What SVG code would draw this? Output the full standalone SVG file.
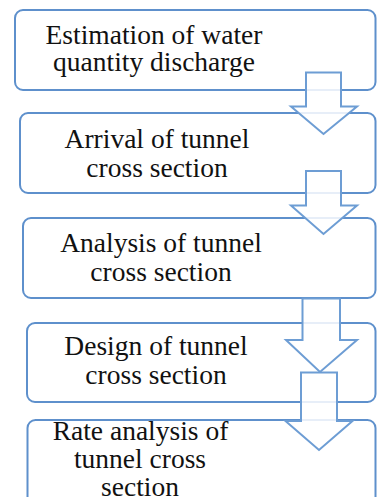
<svg xmlns="http://www.w3.org/2000/svg" width="377" height="497" viewBox="0 0 377 497">
<style>
.box{fill:#ffffff;stroke:#5e90cc;stroke-width:2}
.arr{fill:#ffffff;fill-opacity:0.85;stroke:#6d9dd4;stroke-width:2;stroke-linejoin:miter}
text{font-family:"Liberation Serif","Times New Roman",serif;font-size:27.5px;fill:#111111;text-anchor:middle}
</style>
<rect width="377" height="497" fill="#ffffff"/>
<g id="n1"><rect class="box" x="15" y="10" width="360.5" height="80" rx="8"/>
<text x="154" y="44">Estimation of water</text><text x="154" y="71">quantity discharge</text></g>
<g id="n2"><rect class="box" x="20" y="113" width="355.5" height="80" rx="8"/>
<text x="157" y="148">Arrival of tunnel</text><text x="157" y="176.5">cross section</text></g>
<g id="n3"><rect class="box" x="23" y="218" width="352.5" height="80" rx="8"/>
<text x="161" y="251.5">Analysis of tunnel</text><text x="161" y="280.5">cross section</text></g>
<g id="n4"><rect class="box" x="27" y="323" width="348.5" height="79" rx="8"/>
<text x="156" y="355">Design of tunnel</text><text x="156" y="383.5">cross section</text></g>
<g id="n5"><rect class="box" x="27.5" y="420" width="348" height="100" rx="8"/>
<text x="140.5" y="440">Rate analysis of</text><text x="140" y="468">tunnel cross</text><text x="140" y="496">section</text></g>
<g id="connectors">
<path class="arr" d="M306 72.5 H341 V106.5 H357 L323.5 134 L291 106.5 H306 Z"/>
<path class="arr" d="M306 171 H341 V205.5 H357 L323.5 234 L291 205.5 H306 Z"/>
<path class="arr" d="M302.5 298.5 H340 V340 H357 L320 372 L286 340 H302.5 Z"/>
<path class="arr" d="M301 372.5 H337 V421 H352.5 L319 450 L285.5 421 H301 Z"/>
</g>
</svg>
